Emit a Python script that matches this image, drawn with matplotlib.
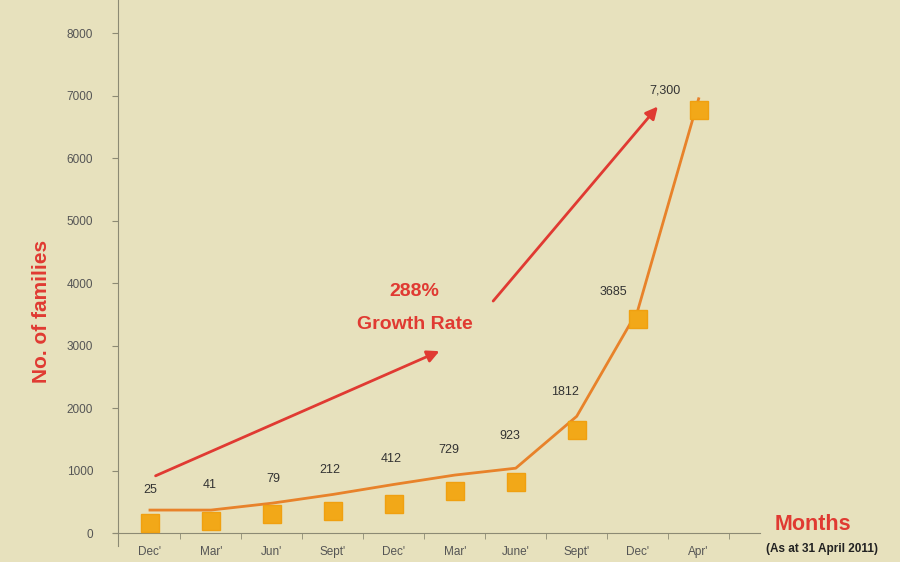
import numpy as np
import matplotlib
matplotlib.use("Agg")
import matplotlib.pyplot as plt

plt.rcParams['font.family'] = ['Liberation Sans', 'DejaVu Sans']

# data
months = ["Dec'", "Mar'", "Jun'", "Sept'", "Dec'", "Mar'", "June'", "Sept'", "Dec'", "Apr'"]
marker_vals = [160, 190, 300, 350, 460, 670, 820, 1650, 3420, 6770]
line_vals = [370, 370, 480, 620, 780, 930, 1040, 1870, 3560, 6950]
labels = ["25", "41", "79", "212", "412", "729", "923", "1812", "3685", "7,300"]
label_x = [0, 0.98, 2.02, 2.95, 3.95, 4.9, 5.9, 6.8, 7.6, 8.45]
label_y = [690, 770, 860, 1010, 1190, 1330, 1550, 2260, 3860, 7090]
y_ticks = [0, 1000, 2000, 3000, 4000, 5000, 6000, 7000, 8000]

bg = '#e7e1bd'
axis_col = '#8c8a74'
red = '#e03a32'

fig = plt.figure(figsize=(9, 5.62), dpi=100)
fig.patch.set_facecolor(bg)
ax = fig.add_axes([0.126, 0.029, 0.718, 0.971])
ax.set_facecolor(bg)

x = np.arange(len(months))
ax.plot(x, line_vals, color='#e8822a', lw=2, zorder=3)
ax.plot(x, marker_vals, linestyle='none', marker='s', markersize=13,
        color='#f2a818', markeredgecolor='#f0a010', zorder=4)

for lx, ly, t in zip(label_x, label_y, labels):
    ax.text(lx, ly, t, ha='center', va='center', fontsize=9, color='#333333')

# growth arrows
ax.annotate('', xy=(4.79, 2930), xytext=(0.05, 900),
            arrowprops=dict(arrowstyle='-|>', color=red, lw=2, mutation_scale=18))
ax.annotate('', xy=(8.36, 6860), xytext=(5.6, 3680),
            arrowprops=dict(arrowstyle='-|>', color=red, lw=2, mutation_scale=18))
ax.text(4.34, 3870, "288%", ha='center', va='center', fontsize=14,
        fontweight='bold', color=red)
ax.text(4.34, 3340, "Growth Rate", ha='center', va='center', fontsize=14,
        fontweight='bold', color=red)

ax.set_xlim(-0.6, 10.0)
ax.set_ylim(-200, 8530)

for s in ['top', 'right']:
    ax.spines[s].set_visible(False)
ax.spines['left'].set_position(('data', -0.52))
ax.spines['bottom'].set_position(('data', 0))
ax.spines['left'].set_color(axis_col)
ax.spines['bottom'].set_color(axis_col)

ax.set_yticks(y_ticks)
ax.set_yticklabels([str(v) for v in y_ticks])
ax.tick_params(axis='y', direction='out', length=4, colors=axis_col,
               labelcolor='#555555', labelsize=8.5, pad=14)

ax.set_xticks(x)
ax.set_xticklabels(months)
ax.set_xticks(np.arange(0.5, 10, 1), minor=True)
ax.tick_params(axis='x', which='major', length=0, labelcolor='#555555',
               labelsize=8.5, pad=9)
ax.tick_params(axis='x', which='minor', direction='out', length=4, colors=axis_col)

fig.text(0.046, 0.445, "No. of families", rotation=90, ha='center', va='center',
         fontsize=15, fontweight='bold', color=red)
fig.text(0.903, 0.067, "Months", ha='center', va='center', fontsize=15.5,
         fontweight='bold', color=red)
fig.text(0.913, 0.024, "(As at 31 April 2011)", ha='center', va='center',
         fontsize=8.5, fontweight='bold', color='#222222')

fig.savefig('out.png', dpi=100, facecolor=bg)
